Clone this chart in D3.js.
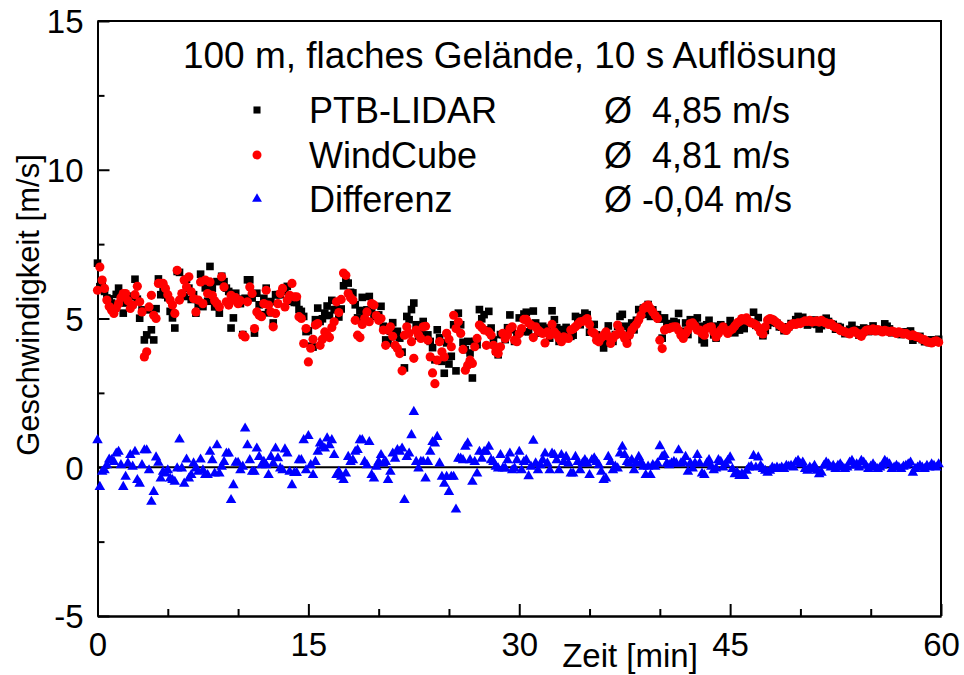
<!DOCTYPE html>
<html>
<head>
<meta charset="utf-8">
<script src="https://cdnjs.cloudflare.com/ajax/libs/d3/7.8.5/d3.min.js"></script>
<style>
  body { margin: 0; background: #fff; }
  text { font-family: "Liberation Sans", Arial, sans-serif; fill: #000; }
</style>
</head>
<body>
<div id="chart"></div>
<script>

// 10 s values, 360 per series (0..59:50 min)
var windCube = [
  5.95, 6.73, 6.29, 6.01, 5.62, 5.40, 5.28, 5.17, 5.35, 5.50,
  5.70, 5.84, 5.84, 5.60, 5.34, 5.45, 5.80, 6.08, 5.56, 5.22,
  3.71, 3.88, 5.39, 5.78, 5.11, 5.00, 6.18, 6.18, 6.18, 6.01,
  5.80, 5.62, 5.45, 5.17, 6.62, 5.62, 5.84, 6.29, 6.06, 6.40,
  5.90, 5.67, 5.22, 5.62, 6.23, 5.50, 6.29, 5.84, 6.23, 5.78,
  5.60, 5.50, 5.39, 6.40, 6.06, 5.56, 5.45, 5.78, 5.62, 5.70,
  5.50, 5.60, 4.44, 4.38, 5.56, 6.06, 5.84, 4.66, 5.22, 5.11,
  5.06, 5.50, 5.95, 5.45, 5.22, 4.72, 5.17, 5.50, 5.84, 6.01,
  5.39, 5.62, 5.78, 6.18, 5.73, 5.73, 5.06, 5.00, 4.16, 4.66,
  3.54, 4.00, 4.30, 4.78, 4.83, 4.10, 4.30, 4.55, 4.45, 4.36,
  4.70, 4.89, 5.56, 5.20, 5.64, 6.53, 6.45, 5.84, 5.70, 5.62,
  4.94, 4.44, 4.36, 4.80, 5.00, 5.22, 4.89, 5.50, 5.45, 5.10,
  4.94, 5.00, 4.61, 4.10, 4.61, 4.72, 4.40, 4.10, 3.99, 3.82,
  3.24, 4.44, 4.72, 4.50, 4.22, 3.66, 4.61, 4.45, 4.33, 4.72,
  4.74, 4.27, 3.71, 3.17, 2.81, 3.60, 4.22, 3.88, 3.71, 4.50,
  4.30, 4.05, 5.11, 4.66, 4.89, 4.50, 3.96, 3.26, 3.43, 3.60,
  3.49, 4.05, 4.33, 4.78, 4.70, 4.61, 4.10, 4.55, 4.44, 4.10,
  3.88, 3.82, 4.05, 4.50, 4.33, 4.45, 4.66, 4.72, 4.27, 4.22,
  4.50, 4.66, 4.97, 4.97, 4.85, 4.78, 4.36, 4.72, 4.61, 4.55,
  4.50, 4.18, 4.55, 4.44, 4.80, 4.55, 4.45, 4.33, 4.22, 4.38,
  4.35, 4.33, 4.61, 4.65, 4.72, 4.81, 4.89, 4.90, 4.94, 5.00,
  4.80, 4.55, 4.50, 4.27, 4.22, 4.35, 4.44, 4.55, 4.40, 4.16,
  4.33, 4.44, 4.78, 4.61, 4.45, 4.33, 4.16, 4.44, 4.61, 4.72,
  4.81, 4.95, 5.11, 5.33, 5.40, 5.45, 5.33, 5.22, 5.10, 5.00,
  4.27, 3.99, 4.61, 4.66, 4.66, 4.70, 4.72, 4.72, 4.60, 4.44,
  4.33, 4.50, 4.61, 4.83, 4.85, 4.75, 4.61, 4.61, 4.50, 4.44,
  4.66, 4.70, 4.72, 4.55, 4.38, 4.50, 4.61, 4.72, 4.60, 4.50,
  4.60, 4.65, 4.75, 4.85, 4.90, 5.00, 4.95, 5.02, 4.90, 4.85,
  4.83, 4.78, 4.70, 4.55, 4.48, 4.72, 4.95, 5.00, 4.97, 4.92,
  4.85, 4.78, 4.72, 4.65, 4.60, 4.70, 4.78, 4.83, 4.80, 4.85,
  4.83, 4.88, 4.92, 4.90, 4.94, 4.88, 4.90, 4.92, 4.88, 4.94,
  4.88, 4.85, 4.80, 4.83, 4.75, 4.70, 4.68, 4.60, 4.58, 4.55,
  4.52, 4.48, 4.55, 4.58, 4.52, 4.45, 4.40, 4.52, 4.60, 4.62,
  4.60, 4.65, 4.58, 4.63, 4.60, 4.55, 4.60, 4.58, 4.55, 4.58,
  4.55, 4.50, 4.55, 4.52, 4.48, 4.50, 4.45, 4.42, 4.45, 4.40,
  4.38, 4.35, 4.30, 4.28, 4.22, 4.20, 4.18, 4.22, 4.25, 4.20
];

// Differenz = PTB-LIDAR - WindCube
var differenz = [
  0.91, -0.66, -0.15, -0.10, 0.07, 0.26, 0.24, 0.18, 0.46, 0.52,
  0.07, -0.66, -0.32, 0.13, 0.41, 0.02, 0.52, -0.43, -0.55, 0.07,
  0.57, 0.57, -0.10, -1.16, -0.83, 0.33, 0.15, -0.38, -0.15, -0.21,
  -0.10, -0.38, -0.43, -0.49, -0.04, 0.93, -0.04, -0.55, 0.26, -0.38,
  -0.26, 0.13, -0.04, -0.15, 0.26, -0.10, -0.26, -0.26, 0.52, 0.24,
  -0.21, 0.74, -0.21, 0.02, 0.18, 0.46, 0.46, -1.10, -0.60, 0.15,
  0.15, -0.10, 0.02, 1.30, 0.74, 0.24, -0.15, -0.15, 0.63, 0.35,
  0.07, 0.18, 0.07, -0.26, 0.35, 0.13, 0.63, 0.30, -0.04, -0.10,
  0.60, 0.46, -0.15, -0.60, -0.19, -0.19, 0.24, 0.24, 0.91, -0.10,
  1.05, 0.07, -0.26, 0.18, 0.52, 0.80, 0.69, 0.63, 0.97, 0.74,
  0.91, 0.41, -0.26, -0.15, -0.32, -0.43, -0.21, 0.35, 0.18, 0.24,
  0.52, 0.58, 0.91, 0.91, 0.18, 0.07, 0.85, -0.26, -0.38, 0.02,
  0.18, 0.41, 0.13, 0.18, -0.43, -0.15, 0.46, 0.29, 0.58, 0.52,
  0.63, -1.10, 0.35, 0.46, 1.08, 1.86, 0.18, -0.04, 0.18, 0.18,
  -0.38, 0.18, 0.52, 0.85, 0.80, 1.02, 0.13, -0.32, -0.55, -0.32,
  -0.83, -0.32, -0.32, -1.42, 0.29, 0.29, 0.24, 0.69, 0.80, 0.24,
  -0.49, 0.18, -0.21, 0.52, 0.29, 0.52, 0.52, 0.69, 0.24, 0.18,
  0.02, -0.04, 0.41, -0.04, -0.04, 0.24, 0.46, -0.10, -0.04, 0.24,
  0.52, -0.10, 0.18, 0.24, -0.30, 0.02, 0.89, 0.13, -0.10, 0.07,
  0.24, 0.46, 0.13, -0.10, 0.46, 0.41, 0.24, -0.10, 0.41, 0.18,
  0.35, 0.13, -0.21, -0.21, 0.35, 0.18, -0.10, 0.13, 0.24, 0.13,
  -0.26, 0.24, 0.30, 0.18, 0.07, -0.15, -0.43, -0.38, 0.35, 0.18,
  -0.10, 0.02, -0.04, 0.46, 0.69, 0.41, 0.18, 0.13, 0.24, -0.10,
  0.13, 0.35, 0.18, 0.02, -0.26, 0.02, -0.26, 0.07, 0.02, 0.13,
  0.71, 0.35, 0.41, 0.13, 0.07, 0.13, 0.18, 0.13, 0.57, 0.13,
  0.18, 0.35, -0.15, 0.13, -0.04, 0.13, 0.41, 0.13, -0.21, -0.26,
  0.13, 0.24, 0.02, -0.10, -0.04, 0.24, 0.18, -0.01, 0.10, 0.22,
  0.33, -0.06, -0.23, -0.18, -0.29, -0.23, -0.29, -0.12, -0.01, 0.02,
  0.38, -0.01, 0.33, 0.05, -0.06, -0.12, -0.18, -0.12, -0.01, -0.06,
  -0.01, -0.06, -0.01, -0.06, 0.05, 0.02, 0.05, -0.01, 0.16, 0.22,
  0.10, 0.16, -0.06, -0.12, -0.01, -0.06, 0.05, -0.12, -0.23, -0.18,
  0.05, 0.16, 0.10, -0.01, 0.05, -0.06, 0.05, 0.10, -0.01, -0.06,
  -0.01, 0.16, 0.22, 0.05, 0.10, -0.01, 0.22, 0.16, 0.05, -0.06,
  0.02, 0.10, -0.01, -0.06, -0.01, 0.05, 0.22, 0.16, 0.10, -0.06,
  -0.01, 0.05, -0.01, -0.06, 0.02, 0.05, 0.10, 0.16, -0.18, -0.06,
  -0.01, 0.05, -0.01, -0.06, 0.05, -0.01, 0.10, 0.05, -0.01, 0.10
];

// PTB-LIDAR follows from the two read series
var ptbLidar = windCube.map(function(v, i){ return v + differenz[i]; });

var title = '100 m, flaches Gelände, 10 s Auflösung';
var legendNames = ['PTB-LIDAR', 'WindCube', 'Differenz'];
var legendMeans = ['Ø  4,85 m/s', 'Ø  4,81 m/s', 'Ø -0,04 m/s'];
var xTicks = [0, 15, 30, 45, 60];
var xMinor = [5, 10, 20, 25, 35, 40, 50, 55];
var yTicks = [-5, 0, 5, 10, 15];
var yMinor = [-2.5, 2.5, 7.5, 12.5];

var width = 964, height = 675,
  mLeft = 97.5, mRight = 941, mTop = 21, mBottom = 616;

var svg = d3.select('#chart').append('svg')
  .attr('width', width)
  .attr('height', height);

svg.append('rect')
  .attr('width', width)
  .attr('height', height)
  .style('fill', '#fff');

var x = d3.scaleLinear().domain([0, 60]).range([mLeft, mRight]);
var y = d3.scaleLinear().domain([-5, 15]).range([mBottom, mTop]);

function minute(i){ return i / 6; }
function plain(d){ return String(d); }

/*---------- AXES ----------*/

var xAxis = svg.append('g')
  .attr('transform', 'translate(0,' + mBottom + ')')
  .call(d3.axisBottom(x).tickValues(xTicks).tickFormat(plain).tickSizeInner(-12).tickSizeOuter(0).tickPadding(17));
svg.append('g')
  .attr('transform', 'translate(0,' + mBottom + ')')
  .call(d3.axisBottom(x).tickValues(xMinor).tickSizeInner(-7).tickSizeOuter(0).tickFormat(''));

var yAxis = svg.append('g')
  .attr('transform', 'translate(' + mLeft + ',0)')
  .call(d3.axisLeft(y).tickValues(yTicks).tickFormat(plain).tickSizeInner(-12).tickSizeOuter(0).tickPadding(14));
svg.append('g')
  .attr('transform', 'translate(' + mLeft + ',0)')
  .call(d3.axisLeft(y).tickValues(yMinor).tickSizeInner(-7).tickSizeOuter(0).tickFormat(''));

svg.selectAll('.domain, .tick line')
  .style('stroke', '#000')
  .style('stroke-width', 2);

svg.selectAll('.tick text')
  .style('font-size', '33px')
  .style('font-family', '"Liberation Sans", Arial, sans-serif');

xAxis.selectAll('.tick text').attr('dy', '0.71em');
yAxis.selectAll('.tick text').attr('dy', '0.36em');

// frame top / right
svg.append('path')
  .attr('d', 'M' + mLeft + ',' + mTop + 'H' + mRight + 'V' + mBottom)
  .style('fill', 'none')
  .style('stroke', '#000')
  .style('stroke-width', 2);

svg.append('text')
  .attr('x', 630)
  .attr('y', 667)
  .attr('text-anchor', 'middle')
  .style('font-size', '33px')
  .text('Zeit [min]');

svg.append('text')
  .attr('transform', 'translate(39,305) rotate(-90)')
  .attr('text-anchor', 'middle')
  .style('font-size', '31px')
  .text('Geschwindigkeit [m/s]');

/*---------- DATA ----------*/

svg.append('line')
  .attr('x1', x(0)).attr('x2', x(60))
  .attr('y1', y(0)).attr('y2', y(0))
  .style('stroke', '#000')
  .style('stroke-width', 2);

var squareSym = d3.symbol(d3.symbolSquare, 58);
var triSym = d3.symbol(d3.symbolTriangle, 48);

svg.append('g').selectAll('path')
  .data(ptbLidar)
  .enter().append('path')
    .attr('d', squareSym)
    .attr('transform', function(d, i){ return 'translate(' + x(minute(i)) + ',' + y(d) + ')'; })
    .style('fill', '#000');

svg.append('g').selectAll('circle')
  .data(windCube)
  .enter().append('circle')
    .attr('cx', function(d, i){ return x(minute(i)); })
    .attr('cy', function(d){ return y(d); })
    .attr('r', 4.6)
    .style('fill', '#ff0000');

svg.append('g').selectAll('path')
  .data(differenz)
  .enter().append('path')
    .attr('d', triSym)
    .attr('transform', function(d, i){ return 'translate(' + x(minute(i)) + ',' + y(d) + ')'; })
    .style('fill', '#0000ff');

/*---------- TITLE + LEGEND ----------*/

svg.append('text')
  .attr('x', 510)
  .attr('y', 68)
  .attr('text-anchor', 'middle')
  .style('font-size', '37px')
  .text(title);

var legend = svg.append('g');
var rowY = [110, 155, 199];

legend.append('path')
  .attr('d', d3.symbol(d3.symbolSquare, 50))
  .attr('transform', 'translate(257,' + rowY[0] + ')')
  .style('fill', '#000');
legend.append('circle')
  .attr('cx', 257).attr('cy', rowY[1]).attr('r', 4.5)
  .style('fill', '#ff0000');
legend.append('path')
  .attr('d', d3.symbol(d3.symbolTriangle, 42))
  .attr('transform', 'translate(257,' + rowY[2] + ')')
  .style('fill', '#0000ff');

legend.selectAll('.name')
  .data(legendNames)
  .enter().append('text')
    .attr('class', 'name')
    .attr('x', 309)
    .attr('y', function(d, i){ return rowY[i] + 13; })
    .style('font-size', '36px')
    .text(function(d){ return d; });

legend.selectAll('.mean')
  .data(legendMeans)
  .enter().append('text')
    .attr('class', 'mean')
    .attr('x', 604)
    .attr('y', function(d, i){ return rowY[i] + 13; })
    .style('font-size', '36px')
    .style('white-space', 'pre')
    .text(function(d){ return d; });

</script>
</body>
</html>
